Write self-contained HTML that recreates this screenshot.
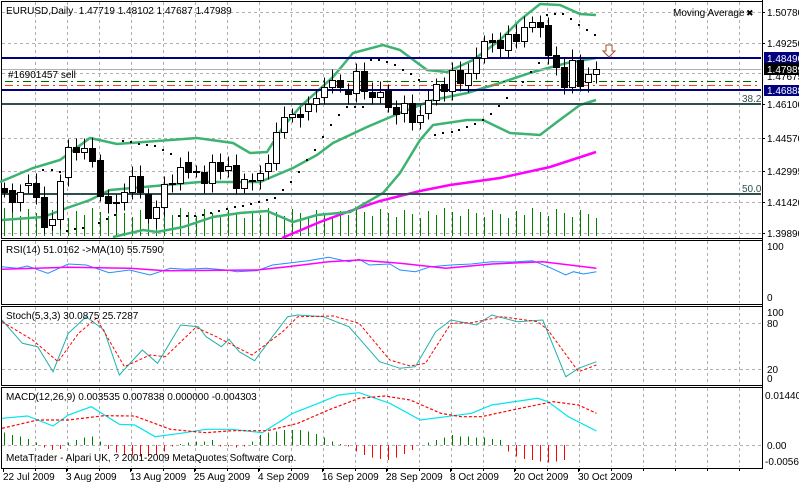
<!DOCTYPE html>
<html><head><meta charset="utf-8"><style>
body{margin:0;background:#fff;}
svg{display:block;font-family:"Liberation Sans",sans-serif;font-size:10px;}
</style></head><body>
<svg id="s" width="799" height="484" xmlns="http://www.w3.org/2000/svg" shape-rendering="crispEdges"></svg>
<script>
const S=document.getElementById('s');let h='';
const grid='#b0b0b0';
const gx=[];for(let x=35;x<=740;x+=32)gx.push(x+0.5);
function vg(y1,y2){gx.forEach(x=>h+=`<line x1="${x}" y1="${y1}" x2="${x}" y2="${y2}" stroke="${grid}" stroke-dasharray="3,3"/>`);}
function hg(y){h+=`<line x1="2" y1="${y+0.5}" x2="761" y2="${y+0.5}" stroke="${grid}" stroke-dasharray="3,3"/>`;}
function pl(pts,col,w,dash,sx,sy,ox,oy){let p=pts.map(q=>((q[0]/(sx||1))+(ox||0)).toFixed(1)+','+((q[1]/(sy||1))+(oy||0)).toFixed(1)).join(' ');h+=`<polyline points="${p}" fill="none" stroke="${col}" stroke-width="${w}" shape-rendering="auto" ${dash?'stroke-dasharray="'+dash+'"':''}/>`;}
function t(x,y,s,extra){h+=`<text x="${x}" y="${y}" ${extra||''}>${s}</text>`;}
vg(2,238);[12,43,73,104,138,171,202,233].forEach(hg);
[[1,1,761,237],[1,240,761,64],[1,306,761,79],[1,387,761,81]].forEach(r=>h+=`<rect x="${r[0]+0.5}" y="${r[1]+0.5}" width="${r[2]}" height="${r[3]}" fill="none" stroke="#000"/>`);
for(let i=0;i<75;i++){let x=4.5+8*i;let top=208+((i*37)%11);h+=`<line x1="${x}" y1="236" x2="${x}" y2="${top}" stroke="#008000"/>`;}
pl([[282,238],[320,222],[350,211],[380,201],[400,196],[420,191],[450,185],[500,178],[550,167],[596,152]],'#ff00ff',2.5);
const bc='#3cb371';
pl([[0,182],[33,168],[60,160],[90,138],[117,144],[197,138],[233,143],[250,153],[267,152],[283,127],[300,107],[333,77],[353,53],[383,45],[400,50],[427,70],[447,72],[473,60],[500,40],[520,20],[540,4],[560,5],[580,14],[596,15]],bc,2.5);
pl([[2,220],[43,217],[67,208],[90,200],[110,190],[200,182],[260,182],[293,168],[317,155],[333,143],[367,127],[400,113],[433,100],[467,93],[500,83],[533,72],[567,63],[596,58]],bc,2.5);
pl([[113,237],[143,230],[157,232],[183,227],[213,217],[240,213],[267,211],[293,222],[317,215],[350,212],[383,193],[400,173],[420,140],[433,125],[467,120],[483,120],[510,133],[540,135],[557,122],[580,105],[596,100]],bc,2.5);
h+=`<line x1="2" y1="69.5" x2="761" y2="69.5" stroke="#b0b0b0"/>`;
h+=`<line x1="5" y1="81.5" x2="761" y2="81.5" stroke="#006400" stroke-dasharray="8,4,2,4"/>`;
h+=`<line x1="5" y1="85.5" x2="761" y2="85.5" stroke="#ff4500" stroke-dasharray="8,4,2,4"/>`;
h+=`<line x1="2" y1="58" x2="761" y2="58" stroke="#000080" stroke-width="2"/>`;
h+=`<line x1="2" y1="90" x2="761" y2="90" stroke="#000080" stroke-width="2"/>`;
h+=`<line x1="2" y1="104" x2="761" y2="104" stroke="#2f4f4f" stroke-width="2"/>`;
h+=`<line x1="2" y1="194" x2="761" y2="194" stroke="#2f4f4f" stroke-width="2"/>`;
[[43,170],[52,170],[60,172],[123,141],[131,142],[139,144],[147,145],[155,146],[163,150],[171,154],[67,231],[75,229],[83,228],[99,223],[107,219],[115,215],[179,216],[187,216],[195,216],[203,215],[211,213],[219,211],[227,209],[235,207],[243,206],[251,204],[259,202],[267,200],[275,198],[283,190],[291,182],[299,172],[307,160],[315,150],[323,137],[331,125],[339,115],[347,107],[355,107],[363,107],[371,60],[379,60],[387,62],[395,65],[403,70],[411,74],[419,80],[435,135],[443,133],[452,132],[459,130],[467,127],[475,124],[483,120],[491,114],[499,106],[507,98],[523,82],[531,72],[539,63],[547,15],[555,14],[563,14],[571,19],[579,25],[587,30],[595,35]].forEach(p=>h+=`<rect x="${p[0]-1}" y="${p[1]-1}" width="2" height="2" fill="#000"/>`);
const c1=[[565,575,1],[570,605,1],[575,605,0],[550,556,0],[550,590,1],[590,680,1],[658,676,0],[542,658,0],[440,532,0],[440,455,1],[445,455,0],[445,482,1],[480,588,1],[588,610,1],[606,610,1],[575,607,0],[527,575,0],[527,575,1],[582,655,1],[620,655,0],[553,620,0],[548,553,0],[500,548,0],[487,515,1],[514,516,1],[515,550,1],[485,550,0],[485,512,1],[497,510,0],[495,565,1],[538,565,0],[539,541,1],[518,540,0],[490,512,0],[395,490,0],[352,395,0],[343,350,0],[343,350,1],[313,332,0],[293,313,0],[262,292,0],[240,262,0],[240,262,1],[270,283,1],[213,280,0],[213,272,1],[275,292,1],[275,292,0],[270,322,1],[322,342,1],
[308,340,0],[308,365,1],[344,365,0],[300,338,0],[252,300,0],[252,273,1],[210,273,0],[210,248,1],[220,256,0],[175,220,0],[123,175,0],[120,125,1],[120,143,1],[103,150,0],[103,122,1],[80,122,0],[65,80,0],[67,80,1],[75,165,1],[165,200,1],[200,260,1],[180,260,0],[180,258,1],[222,247,0],[208,222,0]];
c1.forEach((c,i)=>{let x=4.5+8*i,a=Math.round(c[0]/3)+0.5,b=Math.round(c[1]/3)+0.5;let wt=a-6-((i*7)%6),wb=b+5+((i*5)%6);
h+=`<line x1="${x}" y1="${wt}" x2="${x}" y2="${wb}" stroke="#000"/>`;
h+=`<rect x="${x-3}" y="${a}" width="6" height="${Math.max(b-a,1)}" fill="${c[2]?'#000':'#fff'}" stroke="#000"/>`;});
t(6,14,'EURUSD,Daily&#160;&#160;1.47719 1.48102 1.47687 1.47989');
t(8,78,'#16901457 sell');t(742,102,'38.2','fill="#2f4f4f"');t(742,192,'50.0','fill="#2f4f4f"');
t(673,16,'Moving Average');t(746,16,'✖','font-size="9"');
h+=`<path d="M606,45 h6 v6 h3 l-6,6 l-6,-6 h3 z" fill="#fff" stroke="#a0522d" shape-rendering="auto"/>`;
h+=`<line x1="762.5" y1="0" x2="762.5" y2="468" stroke="#000"/>`;
[[1.50780,12],[1.49250,43],[1.46100,104],[1.44570,138],[1.42995,171],[1.41420,202],[1.39890,233]].forEach(a=>{h+=`<line x1="762" y1="${a[1]+0.5}" x2="765" y2="${a[1]+0.5}" stroke="#000"/>`;t(767,a[1]+4,a[0].toFixed(5));});
t(767,80,'1.47675');
h+=`<rect x="764" y="52" width="35" height="12" fill="#000080"/>`;t(767,62,'1.48490','fill="#fff"');
h+=`<rect x="764" y="63" width="35" height="12" fill="#000"/>`;t(767,73,'1.47989','fill="#fff"');
h+=`<rect x="764" y="85" width="35" height="11" fill="#000080"/>`;t(767,94,'1.46888','fill="#fff"');
vg(241,303);
pl([[0,80],[30,85],[50,78],[90,100],[130,72],[165,75],[210,98],[250,90],[290,105],[330,85],[360,88],[400,85],[440,90],[460,95],[500,92],[530,75],[600,62],[640,52],[680,65],[700,58],[720,75],[760,72],[780,90],[810,95],[840,80],[880,75],[920,72],[960,65],[1000,66],[1040,62],[1070,80],[1105,105],[1120,95],[1140,102],[1165,95]],'#1e90ff',1,null,1.96,3,2,240);
pl([[0,88],[130,82],[250,85],[320,92],[500,90],[560,80],[640,65],[700,60],[780,70],[870,85],[960,72],[1060,65],[1165,85]],'#ff00ff',1.5,null,1.96,3,2,240);
t(6,253,'RSI(14) 51.0162  -&gt;MA(10) 55.7590');t(767,250,'100');t(767,301,'0');
vg(307,384);
h+=`<line x1="2" y1="323.5" x2="761" y2="323.5" stroke="${grid}" stroke-dasharray="3,3"/><line x1="2" y1="369.5" x2="761" y2="369.5" stroke="${grid}" stroke-dasharray="3,3"/>`;
pl([[0,240],[40,310],[70,320],[100,395],[130,280],[165,230],[200,270],[230,405],[275,330],[305,370],[350,255],[385,260],[400,290],[430,320],[445,298],[465,335],[495,362],[530,290],[560,230],[580,225],[630,230],[680,260],[740,365],[780,385],[810,380],[850,275],[880,240],[930,255],[960,225],[1010,245],[1060,240],[1105,410],[1130,385],[1165,365]],'#20b2aa',1,null,1.96,3,2,240);
pl([[0,245],[60,300],[110,365],[150,280],[185,235],[240,380],[290,345],[320,350],[380,262],[420,290],[490,345],[550,275],[580,230],[650,228],[700,250],[760,360],[800,378],[830,370],[880,250],[920,248],[980,230],[1050,245],[1070,270],[1130,395],[1165,375]],'#ff0000',1,'3,2',1.96,3,2,240);
t(6,319,'Stoch(5,3,3) 30.0875 25.7287');t(767,316,'100');t(767,327,'80');t(767,373,'20');t(767,382,'0');
vg(388,467);
h+=`<line x1="2" y1="445.5" x2="761" y2="445.5" stroke="${grid}" stroke-dasharray="3,3"/>`;
const hv=[10,8,7,5,2,-2,-4,-3,2,4,6,7,3,-3,-6,-8,-8,-9,-9,-8,-5,-1,1,2,3,3,4,-1,-1,-2,-1,3,8,10,11,12,12,12,11,9,6,3,1,-1,-5,-8,-10,-11,-12,-10,-7,-4,0,2,4,6,8,7,7,6,6,5,4,-5,-9,-11,-12,-13,-14,-13,-12];
hv.forEach((v,i)=>{let x=4.5+8*i;if(x>600)return;let y=445-v*1.25;h+=`<line x1="${x}" y1="445" x2="${x}" y2="${y}" stroke="${v>=0?'#008000':'#ff0000'}"/>`;});
pl([[0,535],[50,528],[100,558],[130,525],[175,500],[230,553],[260,555],[300,590],[350,580],[400,568],[450,568],[510,578],[570,520],[620,490],[660,465],[700,458],[760,490],[820,540],[870,530],[920,520],[960,495],[1050,475],[1070,485],[1110,530],[1165,573]],'#00e5ee',1.2,null,1.96,3,2,240);
pl([[0,565],[70,540],[130,540],[200,527],[260,528],[330,568],[400,578],[450,572],[520,572],[580,550],[640,510],[700,475],[750,468],[800,480],[860,520],[900,530],[940,530],[1000,510],[1080,485],[1130,495],[1165,520]],'#ff0000',1.2,'3,2',1.96,3,2,240);
t(6,400,'MACD(12,26,9) 0.003535 0.007838 0.000000 -0.004303');t(6,461,'MetaTrader - Alpari UK, ? 2001-2009 MetaQuotes Software Corp.');
t(765,399,'0.01440');t(767,449,'0.00');t(765,465,'-0.0056');
[['22 Jul 2009',3],['3 Aug 2009',66],['13 Aug 2009',130],['25 Aug 2009',194],['4 Sep 2009',258],['16 Sep 2009',322],['28 Sep 2009',386],['8 Oct 2009',450],['20 Oct 2009',514],['30 Oct 2009',578]].forEach(d=>{h+=`<line x1="${d[1]+0.5}" y1="468" x2="${d[1]+0.5}" y2="472" stroke="#000"/>`;t(d[1],480,d[0]);});
gx.forEach(x=>h+=`<line x1="${x}" y1="468" x2="${x}" y2="471" stroke="#000"/>`);
S.innerHTML=h;
</script>
</body></html>
